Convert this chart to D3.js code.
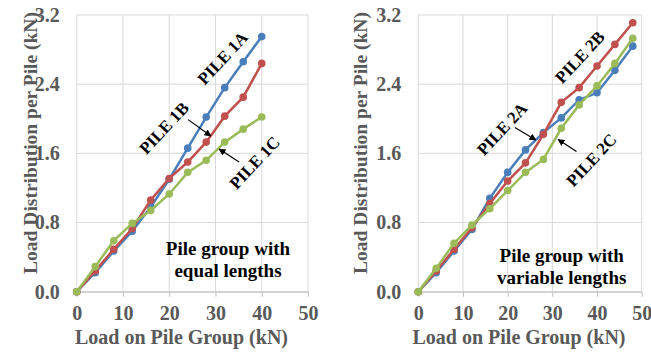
<!DOCTYPE html>
<html><head><meta charset="utf-8">
<script src="https://cdn.jsdelivr.net/npm/d3@7"></script>
<style>
html,body{margin:0;padding:0;background:#fff;}
svg text{font-family:"Liberation Serif","Times New Roman",serif;font-weight:bold;}
</style></head>
<body><svg id="c" width="651" height="354"></svg>
<script>
// ---- data ----
const loadsLeft = [0,4,8,12,16,20,24,28,32,36,40];
const pile1A = [0,0.22,0.47,0.70,0.98,1.30,1.66,2.02,2.36,2.66,2.95];
const pile1B = [0,0.24,0.49,0.73,1.06,1.31,1.50,1.73,2.03,2.25,2.64];
const pile1C = [0,0.29,0.59,0.79,0.94,1.13,1.38,1.52,1.73,1.88,2.02];
const loadsRight = [0,4,8,12,16,20,24,28,32,36,40,44,48];
const pile2A = [0,0.22,0.47,0.72,1.08,1.38,1.64,1.84,2.01,2.22,2.30,2.56,2.84];
const pile2B = [0,0.24,0.49,0.74,1.02,1.28,1.49,1.82,2.19,2.36,2.61,2.86,3.11];
const pile2C = [0,0.27,0.56,0.77,0.96,1.17,1.38,1.53,1.89,2.16,2.38,2.64,2.93];
const xTicks = [0,10,20,30,40,50];
const yTicks = [0,0.8,1.6,2.4,3.2];
const colors = {A:"#4a7ebb", B:"#c0504d", C:"#9bbb59"};
const xTitle = "Load on Pile Group (kN)";
const yTitle = "Load Distribution per Pile (kN)";
const FONT = '"Liberation Serif","Times New Roman",serif';

const panels = [
  {x0:76.7, x1:308, loads:loadsLeft,
   series:[{k:"A",v:pile1A},{k:"B",v:pile1B},{k:"C",v:pile1C}],
   labels:[{t:"PILE 1A",x:31.6,y:2.70},{t:"PILE 1B",x:18.9,y:1.89},{t:"PILE 1C",x:38.5,y:1.49}],
   arrows:[[24.1,1.99,29.0,1.80],[35.1,1.50,30.8,1.65]],
   box:{x:32.7, lines:[["Pile group with",0.505],["equal lengths",0.25]]},
   ytx:30, xtx:181.5},
  {x0:418.3, x1:641.7, loads:loadsRight,
   series:[{k:"A",v:pile2A},{k:"B",v:pile2B},{k:"C",v:pile2C}],
   labels:[{t:"PILE 2B",x:36.2,y:2.71},{t:"PILE 2A",x:18.8,y:1.88},{t:"PILE 2C",x:38.8,y:1.52}],
   arrows:[[21.6,1.90,26.3,1.755],[35.4,1.62,31.3,1.76]],
   box:{x:32.1, lines:[["Pile group with",0.424],["variable lengths",0.17]]},
   ytx:360, xtx:519}
];

const svg = d3.select("#c");
svg.append("defs").append("marker").attr("id","ah").attr("viewBox","0 0 10 10")
  .attr("refX",9).attr("refY",5).attr("markerWidth",7).attr("markerHeight",7)
  .attr("orient","auto").attr("markerUnits","userSpaceOnUse")
  .append("path").attr("d","M0,0L10,5L0,10z").attr("fill","#000");

panels.forEach(p=>{
  const x = d3.scaleLinear().domain([0,50]).range([p.x0,p.x1]);
  const y = d3.scaleLinear().domain([0,3.2]).range([291.7,15]);
  const g = svg.append("g").attr("font-family",FONT).attr("font-weight","bold");
  // grid
  g.selectAll(".gx").data(xTicks).join("line")
    .attr("x1",d=>x(d)).attr("x2",d=>x(d)).attr("y1",y(0)).attr("y2",y(3.2))
    .attr("stroke","#d9d9d9").attr("stroke-width",1);
  g.selectAll(".gy").data(yTicks).join("line")
    .attr("x1",x(0)).attr("x2",x(50)).attr("y1",d=>y(d)).attr("y2",d=>y(d))
    .attr("stroke","#d9d9d9").attr("stroke-width",1);
  // x axis
  const xa = g.append("g").attr("transform",`translate(0,${y(0)})`)
    .call(d3.axisBottom(x).tickValues(xTicks).tickSize(5).tickSizeOuter(0).tickPadding(9));
  xa.attr("font-family",FONT);
  xa.select(".domain").attr("stroke","#bfbfbf");
  xa.selectAll(".tick line").attr("stroke","#bfbfbf");
  xa.selectAll("text").attr("font-size",20).attr("fill","#595959")
    .attr("font-family",FONT).attr("font-weight","bold");
  // y axis
  const ya = g.append("g").attr("transform",`translate(${x(0)},0)`)
    .call(d3.axisLeft(y).tickValues(yTicks).tickFormat(d3.format(".1f")).tickSize(0).tickPadding(17));
  ya.attr("font-family",FONT);
  ya.select(".domain").remove();
  ya.selectAll("text").attr("font-size",20).attr("fill","#595959")
    .attr("font-family",FONT).attr("font-weight","bold");
  // lines
  const line = d3.line().x((d,i)=>x(p.loads[i])).y(d=>y(d));
  p.series.forEach(s=>{
    g.append("path").datum(s.v).attr("d",line).attr("fill","none")
      .attr("stroke",colors[s.k]).attr("stroke-width",2.5);
    g.selectAll(null).data(s.v).join("circle")
      .attr("cx",(d,i)=>x(p.loads[i])).attr("cy",d=>y(d)).attr("r",3.8)
      .attr("fill",colors[s.k]);
  });
  // labels
  p.labels.forEach(l=>{
    g.append("text").attr("transform",`translate(${x(l.x)},${y(l.y)}) rotate(-47)`)
      .attr("text-anchor","middle").attr("dominant-baseline","central")
      .attr("font-size",17).attr("fill","#000").text(l.t);
  });
  p.arrows.forEach(a=>{
    g.append("line").attr("x1",x(a[0])).attr("y1",y(a[1])).attr("x2",x(a[2])).attr("y2",y(a[3]))
      .attr("stroke","#000").attr("stroke-width",1.2).attr("marker-end","url(#ah)");
  });
  p.box.lines.forEach(l=>{
    g.append("text").attr("x",x(p.box.x)).attr("y",y(l[1]))
      .attr("text-anchor","middle").attr("dominant-baseline","central")
      .attr("font-size",19).attr("fill","#000").text(l[0]);
  });
  // titles
  g.append("text").attr("x",p.xtx).attr("y",337).attr("text-anchor","middle")
    .attr("dominant-baseline","central").attr("font-size",20).attr("fill","#595959").text(xTitle);
  g.append("text").attr("transform",`translate(${p.ytx},143) rotate(-90)`).attr("text-anchor","middle")
    .attr("dominant-baseline","central").attr("font-size",19.5).attr("fill","#595959").text(yTitle);
});
</script></body></html>
